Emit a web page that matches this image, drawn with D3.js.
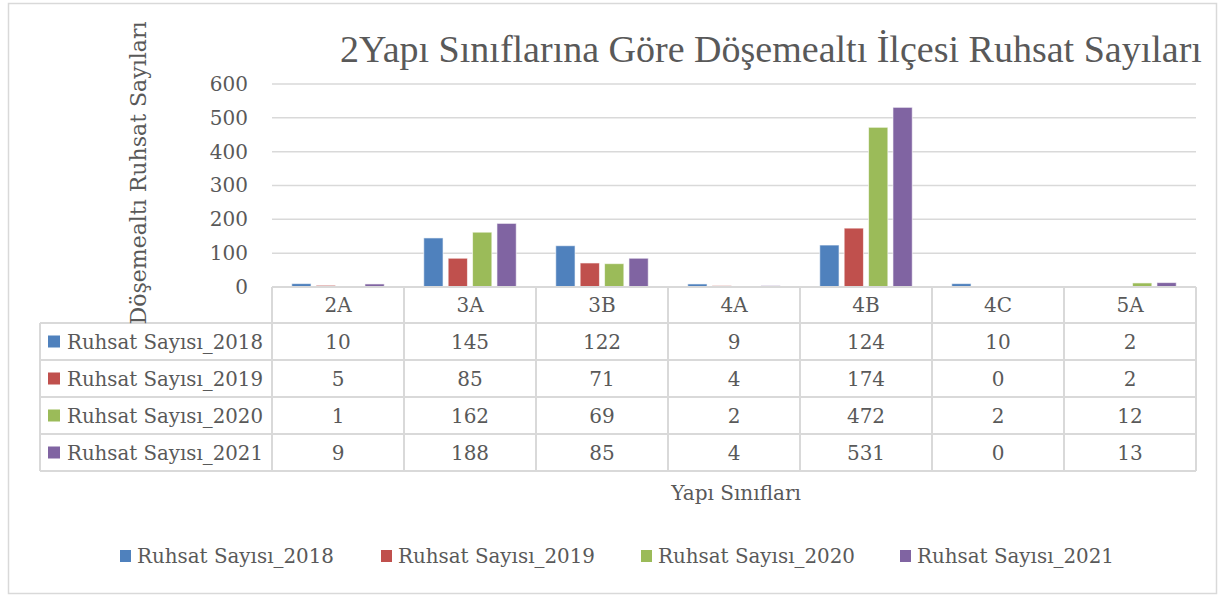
<!DOCTYPE html>
<html>
<head>
<meta charset="utf-8">
<script src="https://cdn.jsdelivr.net/npm/d3@7"></script>
<style>
  body { margin: 0; background: #fff; }
  text { font-family: "DejaVu Serif", "Liberation Serif", serif; fill: #595959; }
</style>
</head>
<body>
<div id="chart"></div>
<script>
/* chart data */
var categories = ["2A", "3A", "3B", "4A", "4B", "4C", "5A"];
var seriesNames = ["Ruhsat Sayısı_2018", "Ruhsat Sayısı_2019", "Ruhsat Sayısı_2020", "Ruhsat Sayısı_2021"];
var values2018 = [10, 145, 122, 9, 124, 10, 2];
var values2019 = [5, 85, 71, 4, 174, 0, 2];
var values2020 = [1, 162, 69, 2, 472, 2, 12];
var values2021 = [9, 188, 85, 4, 531, 0, 13];
var yTicks = [0, 100, 200, 300, 400, 500, 600];

var seriesValues = [values2018, values2019, values2020, values2021];
var colors = ["#4F81BD", "#C0504D", "#9BBB59", "#8064A2"];

/* size of the graphic */
var width = 1224, height = 597;
var plotLeft = 272, plotRight = 1196, plotTop = 84, plotBottom = 287;
var tableLeft = 40, headerH = 36, rowH = 37;
var gridColor = "#d9d9d9";

var svg = d3.select("#chart").append("svg")
  .attr("width", width)
  .attr("height", height);

/* outer chart border */
svg.append("rect")
  .attr("x", 8.5).attr("y", 3.5)
  .attr("width", 1208).attr("height", 590)
  .attr("fill", "#fff")
  .attr("stroke", gridColor)
  .attr("stroke-width", 1.5);

/* scales */
var x0 = d3.scaleBand().domain(categories).range([plotLeft, plotRight]).padding(0);
var x1 = d3.scaleBand().domain(d3.range(seriesNames.length))
  .range([0, x0.bandwidth()]).paddingInner(0.21).paddingOuter(0.81);
var y = d3.scaleLinear().domain([0, 600]).range([plotBottom, plotTop]);

/* gridlines */
svg.append("g").selectAll("line")
  .data(yTicks.slice(1))
  .join("line")
    .attr("x1", plotLeft).attr("x2", plotRight)
    .attr("y1", function(d) { return y(d); })
    .attr("y2", function(d) { return y(d); })
    .attr("stroke", gridColor)
    .attr("stroke-width", 1.5);

/* y axis labels */
var yAxis = svg.append("g")
  .attr("transform", "translate(" + plotLeft + ",0)")
  .call(d3.axisLeft(y).tickValues(yTicks).tickSize(0).tickPadding(24));
yAxis.select(".domain").remove();
yAxis.selectAll("text")
  .style("font-family", '"DejaVu Serif", serif')
  .style("font-size", "20px")
  .attr("fill", "#595959");

/* bars */
svg.append("g").selectAll("g")
  .data(seriesValues)
  .join("g")
    .attr("fill", function(d, i) { return colors[i]; })
  .each(function(vals, si) {
    d3.select(this).selectAll("rect")
      .data(vals)
      .join("rect")
        .attr("x", function(d, ci) { return x0(categories[ci]) + x1(si); })
        .attr("width", x1.bandwidth())
        .attr("y", function(d) { return y(d); })
        .attr("height", function(d) { return plotBottom - y(d); })
        .attr("stroke", "rgba(255,255,255,0.6)")
        .attr("stroke-width", 1);
  });

/* data table */
var table = svg.append("g");
var tableBottom = plotBottom + headerH + rowH * seriesNames.length;

/* horizontal table lines */
table.append("line")
  .attr("x1", plotLeft).attr("x2", plotRight)
  .attr("y1", plotBottom).attr("y2", plotBottom)
  .attr("stroke", gridColor).attr("stroke-width", 2);
for (var r = 0; r <= seriesNames.length; r++) {
  var ly = plotBottom + headerH + r * rowH;
  table.append("line")
    .attr("x1", tableLeft).attr("x2", plotRight)
    .attr("y1", ly).attr("y2", ly)
    .attr("stroke", gridColor).attr("stroke-width", 2);
}
/* vertical table lines */
table.append("line")
  .attr("x1", tableLeft).attr("x2", tableLeft)
  .attr("y1", plotBottom + headerH).attr("y2", tableBottom)
  .attr("stroke", gridColor).attr("stroke-width", 2);
categories.concat(["end"]).forEach(function(c, i) {
  var lx = plotLeft + i * x0.step();
  table.append("line")
    .attr("x1", lx).attr("x2", lx)
    .attr("y1", plotBottom).attr("y2", tableBottom)
    .attr("stroke", gridColor).attr("stroke-width", 2);
});

/* header row: categories */
table.selectAll("text.cat")
  .data(categories)
  .join("text")
    .attr("class", "cat")
    .attr("x", function(d) { return x0(d) + x0.bandwidth() / 2; })
    .attr("y", plotBottom + headerH / 2)
    .attr("text-anchor", "middle")
    .attr("dominant-baseline", "central")
    .style("font-size", "20px")
    .text(function(d) { return d; });

/* series rows */
seriesNames.forEach(function(name, si) {
  var cy = plotBottom + headerH + si * rowH + rowH / 2;
  table.append("rect")
    .attr("x", 48).attr("y", cy - 6)
    .attr("width", 12).attr("height", 12)
    .attr("fill", colors[si]);
  table.append("text")
    .attr("x", 67).attr("y", cy)
    .attr("dominant-baseline", "central")
    .attr("textLength", 196)
    .attr("lengthAdjust", "spacingAndGlyphs")
    .style("font-size", "20px")
    .text(name);
  seriesValues[si].forEach(function(v, ci) {
    table.append("text")
      .attr("x", x0(categories[ci]) + x0.bandwidth() / 2)
      .attr("y", cy)
      .attr("text-anchor", "middle")
      .attr("dominant-baseline", "central")
      .style("font-size", "20px")
      .text(v);
  });
});

/* title: narrower serif, sized so it spans the same width as the original */
var title = svg.append("text")
  .attr("x", 340).attr("y", 62)
  .style("font-family", '"Liberation Serif", serif')
  .style("font-size", "34px")
  .text("2Yapı Sınıflarına Göre Döşemealtı İlçesi Ruhsat Sayıları");
var titleLen = title.node().getComputedTextLength();
title.style("font-size", (34 * 862 / titleLen).toFixed(2) + "px");

/* axis titles */
svg.append("text")
  .attr("transform", "translate(146,173) rotate(-90)")
  .attr("text-anchor", "middle")
  .attr("textLength", 303)
  .attr("lengthAdjust", "spacingAndGlyphs")
  .style("font-size", "23px")
  .text("Döşemealtı Ruhsat Sayıları");

svg.append("text")
  .attr("x", 736).attr("y", 493)
  .attr("text-anchor", "middle")
  .attr("dominant-baseline", "central")
  .style("font-size", "20px")
  .text("Yapı Sınıfları");

/* legend */
var legendX = [120, 381, 641, 900];
var legend = svg.append("g").selectAll("g")
  .data(seriesNames)
  .join("g")
    .attr("transform", function(d, i) { return "translate(" + legendX[i] + ",556)"; });
legend.append("rect")
  .attr("x", 0).attr("y", -6)
  .attr("width", 11).attr("height", 12)
  .attr("fill", function(d, i) { return colors[i]; });
legend.append("text")
  .attr("x", 17).attr("y", 0)
  .attr("dominant-baseline", "central")
  .attr("textLength", 197)
  .attr("lengthAdjust", "spacingAndGlyphs")
  .style("font-size", "20px")
  .text(function(d) { return d; });
</script>
</body>
</html>
